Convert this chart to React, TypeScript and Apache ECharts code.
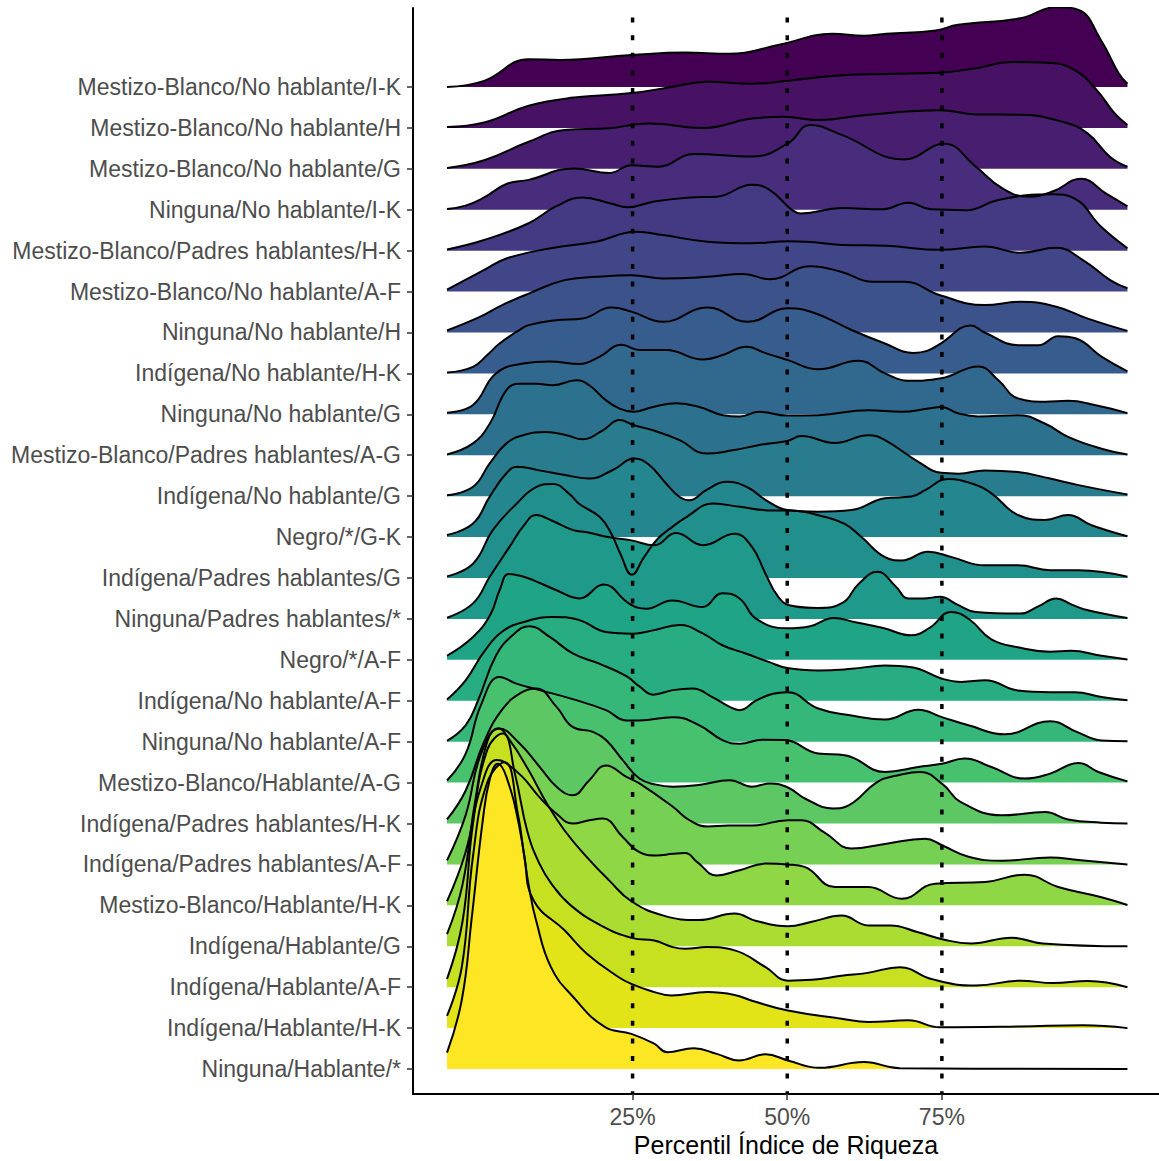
import React, { useEffect, useRef } from "react";
import * as echarts from "echarts";

// Categories, top to bottom
const CATEGORIES: string[] = [
  "Mestizo-Blanco/No hablante/I-K",
  "Mestizo-Blanco/No hablante/H",
  "Mestizo-Blanco/No hablante/G",
  "Ninguna/No hablante/I-K",
  "Mestizo-Blanco/Padres hablantes/H-K",
  "Mestizo-Blanco/No hablante/A-F",
  "Ninguna/No hablante/H",
  "Indígena/No hablante/H-K",
  "Ninguna/No hablante/G",
  "Mestizo-Blanco/Padres hablantes/A-G",
  "Indígena/No hablante/G",
  "Negro/*/G-K",
  "Indígena/Padres hablantes/G",
  "Ninguna/Padres hablantes/*",
  "Negro/*/A-F",
  "Indígena/No hablante/A-F",
  "Ninguna/No hablante/A-F",
  "Mestizo-Blanco/Hablante/A-G",
  "Indígena/Padres hablantes/H-K",
  "Indígena/Padres hablantes/A-F",
  "Mestizo-Blanco/Hablante/H-K",
  "Indígena/Hablante/G",
  "Indígena/Hablante/A-F",
  "Indígena/Hablante/H-K",
  "Ninguna/Hablante/*",
];

// Fill colours (viridis, top to bottom)
const FILLS: string[] = [
  "#440154", "#471164", "#481F70", "#472D7B", "#443A83", "#404688", "#3B528B",
  "#365D8D", "#31688E", "#2C728E", "#287C8E", "#24868E", "#21908C", "#1F9A8A",
  "#20A486", "#27AD81", "#35B779", "#47C16E", "#5DC863", "#75D054", "#8FD744",
  "#AADC32", "#C7E020", "#E3E418", "#FDE725",
];

// Density outlines: [percentile, height in row units]
const R00 = [[-5,0],[1,0.15],[8.2,0.68],[13.3,0.66],[24.8,0.78],[33.5,0.84],[40.7,0.81],[48.7,1.03],[57.3,1.3],[62.4,1.25],[66,1.3],[74,1.38],[77.6,1.52],[87.7,1.68],[93.5,1.95],[97.1,1.88],[100.7,1.15],[103.6,0.33],[105,0.08]];
const R01 = [[-5,0.02],[1,0.13],[8.2,0.54],[15.5,0.74],[24.8,0.85],[31.3,1.0],[37.1,1.13],[44.3,1.08],[50.1,1.15],[57.3,1.27],[66,1.32],[74.7,1.35],[80.5,1.46],[86.3,1.61],[92.1,1.59],[96.4,1.42],[100,0.93],[102.9,0.36],[105,0.07]];
const R02 = [[-5,0.02],[1,0.21],[8.2,0.66],[14,0.95],[21.3,0.99],[24.8,1.07],[27.7,1.11],[36.4,1.0],[44.3,1.23],[49.4,1.27],[55.1,1.19],[62.4,1.31],[74.7,1.43],[80.5,1.33],[87.7,1.32],[94.9,1.13],[98.6,0.86],[102.2,0.29],[105,0.05]];
const R03 = [[-5,0.02],[-2,0.1],[1,0.3],[4.6,0.63],[8.2,0.73],[15.5,1.01],[21.3,0.9],[24.8,1.09],[29.1,1.05],[34.9,1.36],[44.3,1.3],[50.1,1.62],[53.7,2.07],[58.8,1.83],[68.9,1.23],[75.4,1.61],[80.5,1.05],[84.8,0.52],[89,0.32],[93,0.45],[97.5,0.76],[101.5,0.4],[105,0.08]];
const R04 = [[-5,0.03],[1,0.26],[8.2,0.67],[12.6,1.08],[16.9,1.3],[21.3,1.16],[24.2,1.06],[28.5,1.2],[34.3,1.3],[38.6,1.32],[44.3,1.61],[47.2,1.48],[50.8,0.99],[52.2,0.91],[58.8,1.04],[65.3,1.01],[69.6,1.17],[73.2,1.01],[79,0.99],[84.1,1.24],[92.8,1.38],[96.4,1.28],[100.7,0.59],[105,0.06]];
const R05 = [[-5,0.05],[1,0.53],[4.6,0.81],[11.8,1.06],[19.1,1.22],[25.6,1.46],[29.9,1.38],[37.1,1.22],[44.3,1.18],[50.1,1.23],[53,1.22],[58.8,1.14],[66,1.12],[74.7,1.02],[81.9,1.1],[87.7,0.95],[93.5,1.07],[97.8,0.77],[102.2,0.28],[105,0.08]];
const R06 = [[-5,0.05],[0.3,0.38],[3.9,0.67],[8.2,0.95],[14,1.28],[19.1,1.36],[24.8,1.4],[29.9,1.32],[37.1,1.36],[42.9,1.43],[47.2,1.3],[53.7,1.62],[58.8,1.48],[63.8,1.24],[68.9,1.24],[74.7,0.91],[81.9,0.67],[87.7,0.75],[93.5,0.63],[98.6,0.34],[105,0.04]];
const R07 = [[-5,0.02],[-0.8,0.16],[1.5,0.45],[3.5,0.73],[6.7,1.06],[8.2,1.18],[12.6,1.3],[16.9,1.34],[21.6,1.61],[24.8,1.51],[29.9,1.26],[37.1,1.61],[43.6,1.26],[50.1,1.59],[54.5,1.47],[60.4,1.06],[65.8,0.73],[70.4,0.5],[72.6,0.55],[74.8,0.73],[79.7,1.17],[81.9,1.0],[87.4,0.69],[90.6,0.69],[93.8,0.91],[96.6,0.86],[100.8,0.41],[105,0.05]];
const R08 = [[-5,0.04],[-0.8,0.23],[2.9,1.0],[7.3,1.24],[11.6,1.29],[16.4,1.23],[19.7,1.41],[23.2,1.7],[26.1,1.57],[30.4,1.57],[36.4,1.34],[39.6,1.45],[43.4,1.65],[46.6,1.49],[50,1.33],[55,1.1],[61.5,1.31],[65.8,1.0],[69.5,0.82],[74.9,0.88],[80.9,1.17],[84.1,0.84],[87.3,0.39],[91.7,0.31],[95.4,0.33],[99.7,0.23],[105,0.03]];
const R09 = [[-5,0.02],[-0.8,0.29],[1.9,0.77],[4.6,1.59],[6.7,1.75],[9.4,1.75],[12.1,1.71],[15.9,1.83],[18,1.71],[20.7,1.34],[22.9,1.14],[25.1,1.06],[28.3,1.18],[32.1,1.27],[35.8,1.18],[39.6,0.98],[42.3,0.95],[45.5,1.06],[50,0.97],[55,0.98],[63.1,1.1],[68.5,1.06],[72.8,1.14],[74.9,1.18],[77.7,1.02],[80.9,0.95],[87.3,0.98],[91.7,0.77],[95.4,0.45],[100.8,0.16],[105,0.02]];
const R10 = [[-5,0.02],[-0.8,0.23],[1.9,0.8],[4.6,1.29],[7.3,1.49],[11,1.57],[14.3,1.49],[16.9,1.39],[20.2,1.61],[22.9,1.86],[25.1,1.74],[28.3,1.61],[32.6,1.37],[36.9,1.04],[41.2,1.12],[45.5,1.25],[50,1.35],[52.3,1.47],[57.7,1.3],[63.1,1.49],[65.8,1.37],[71.2,0.84],[74.9,0.57],[77.7,0.55],[81.9,0.63],[87.3,0.59],[92.5,0.43],[97.1,0.27],[105,0.04]];
const R11 = [[-5,0.05],[-0.8,0.33],[1.9,0.99],[4.6,1.56],[6.4,1.72],[9.9,1.63],[14.3,1.51],[18,1.43],[21.8,1.64],[25.3,1.92],[27.7,1.76],[30.4,1.31],[32.6,0.98],[34.2,0.9],[36.9,1.15],[40.2,1.35],[43.4,1.23],[46.6,0.9],[50,0.66],[55,0.62],[60.4,0.66],[65.8,0.95],[70.1,0.99],[72.3,1.15],[76,1.42],[79.8,1.31],[83,1.07],[87.3,0.54],[91.7,0.42],[95.4,0.54],[99.2,0.29],[105,0.02]];
const R12 = [[-5,0.04],[-0.8,0.35],[2.4,1.17],[6.2,1.81],[9.4,2.22],[12.1,2.3],[14.8,2.05],[16.4,1.81],[19.7,1.49],[21.5,1.1],[23,0.6],[24.9,0.08],[26.8,0.5],[29,0.95],[31,1.2],[33.7,1.49],[38,1.82],[42.3,1.74],[47.7,1.65],[50.4,1.65],[56.1,1.49],[59.3,1.32],[62,1.0],[65.8,0.51],[68.5,0.43],[72.8,0.64],[76.6,0.51],[81.9,0.31],[87.3,0.31],[92.5,0.19],[97.1,0.19],[105,0.03]];
const R13 = [[-5,0.03],[-0.8,0.38],[1.9,1.03],[5.1,1.76],[7.5,2.3],[9.4,2.54],[12,2.4],[15.4,2.17],[17.6,2.12],[21,2.0],[24.8,1.92],[28.5,1.8],[32,2.1],[36.4,1.8],[41.5,2.08],[44.3,1.76],[46.5,1.1],[48.5,0.55],[50.5,0.33],[55,0.27],[59,0.4],[61.5,0.85],[64.6,1.15],[67.5,0.8],[69.6,0.5],[72,0.5],[74.7,0.54],[77.5,0.35],[80.5,0.17],[87.7,0.13],[90.5,0.3],[93.5,0.5],[96,0.35],[98.6,0.21],[105,0.02]];
const R14 = [[-5,0.1],[-0.8,0.56],[2,1.1],[3.5,1.7],[5,2.1],[7,2.05],[8.9,1.95],[12.7,1.7],[16.4,1.5],[20.3,1.84],[24.5,1.37],[27.2,1.25],[31.4,1.45],[36.3,1.29],[39.5,1.63],[42.3,1.5],[45,1.0],[50,0.77],[53.7,0.82],[57.5,1.02],[61,0.92],[65.5,0.78],[70,0.6],[73,0.78],[76.5,1.17],[79.5,0.98],[83,0.5],[87.5,0.3],[92.5,0.2],[95.8,0.22],[100.8,0.1],[105,0.01]];
const R15 = [[-5,0.03],[-2,0.5],[1,1.2],[4,1.7],[8,1.95],[12,2.05],[16.4,1.97],[20.7,1.68],[25,1.64],[28.3,1.72],[32.6,1.85],[36.4,1.64],[39.6,1.35],[43.4,1.15],[47,0.95],[50,0.8],[55,0.74],[60.4,0.78],[65.8,0.86],[70.1,0.82],[75,0.54],[78.2,0.46],[82,0.5],[87.3,0.25],[92.5,0.21],[96.5,0.21],[100.8,0.09],[105,0.01]];
const R16 = [[-5,0.02],[-2,0.4],[0,1.0],[2.9,2.1],[5.6,2.6],[8.3,2.82],[11.6,2.56],[15.4,2.15],[19.7,1.9],[24,1.6],[26.1,1.35],[28.3,1.15],[31.5,1.26],[34.7,1.3],[37.9,1.09],[40.7,0.85],[42.3,0.77],[45,1.01],[47.7,1.17],[50,1.21],[55,0.81],[60.4,0.64],[65.8,0.54],[71.2,0.78],[75,0.6],[79.3,0.4],[85.2,0.18],[92.5,0.5],[96.8,0.24],[100.8,0.03],[105,0.01]];
const R17 = [[-5,0.05],[-2,0.7],[0.5,1.9],[3.5,2.58],[6.2,2.42],[10,2.26],[15.3,2.04],[20.7,1.77],[24,1.52],[26.1,1.52],[31.5,1.6],[35.8,1.4],[39.6,1.03],[42.3,0.95],[46,1.05],[49.6,1.04],[55,0.71],[59.3,0.67],[65.8,0.26],[71.2,0.38],[75,0.46],[78.7,0.59],[83,0.38],[88.4,0.1],[92.5,0.22],[97.1,0.48],[100.3,0.26],[105,0.03]];
const R18 = [[-5,0.1],[-2,0.8],[1,2.0],[4,2.8],[7,3.2],[9.4,3.3],[12.7,2.85],[15.3,2.36],[18.6,2.24],[20.7,2.04],[23.4,1.55],[26.1,1.1],[28.8,0.95],[31.5,0.9],[35.7,0.94],[40.7,1.06],[44.3,0.9],[47.2,0.98],[50.1,0.88],[53,0.6],[57.4,0.37],[60,0.45],[64.6,1.02],[68,1.18],[71.5,1.26],[75.2,0.95],[78,0.53],[84.7,0.2],[91.7,0.28],[95.4,0.1],[100.8,0.02],[105,0]];
const R19 = [[-5,0.1],[-2,1.2],[0.5,2.7],[3.5,3.32],[6.7,2.96],[10,2.38],[12.7,1.9],[15.3,1.69],[18,2.06],[20.7,2.42],[24,2.14],[26.1,1.98],[31.5,1.41],[34.2,1.08],[37.1,0.93],[40.5,0.95],[44.3,0.95],[50.1,1.08],[52.3,1.08],[56.1,0.77],[60.4,0.39],[65.8,0.5],[72.3,0.63],[75,0.47],[79.3,0.19],[84.7,0.09],[92.5,0.17],[97.1,0.11],[105,0]];
const R20 = [[-5,0.1],[-2,1.3],[0.5,2.9],[3,3.55],[4.3,3.5],[7.2,3.14],[9.9,2.65],[12.7,2.24],[15.3,2.0],[18,2.08],[20.2,2.12],[23.4,1.67],[26.1,1.3],[28.8,1.22],[31.5,1.26],[33.5,1.28],[35.5,1.05],[38.6,0.73],[42.3,0.86],[46.5,1.02],[50,1.0],[52.8,0.94],[57.7,0.45],[63.1,0.45],[68.5,0.16],[73.9,0.53],[82,0.57],[88.4,0.75],[93.8,0.45],[100.8,0.2],[105,0.01]];
const R21 = [[-5,0.3],[-2.5,1.5],[-0.5,3.5],[1.5,5.0],[3.2,5.33],[5.3,5.0],[8.2,4.3],[11.1,3.5],[14,2.83],[17.6,2.18],[21.2,1.61],[24.8,1.1],[30,0.75],[35.7,0.64],[41.5,0.8],[45,0.62],[50.1,0.49],[54,0.6],[58.8,0.75],[63.1,0.51],[66.7,0.51],[71,0.35],[75.4,0.16],[79.7,0.07],[86.3,0.21],[91.3,0.07],[105,0]];
const R22 = [[-5,0.2],[-2.5,1.6],[-0.8,4.0],[1.5,5.8],[4,6.2],[6,5.2],[8,3.8],[10,3.0],[12,2.5],[15,2.0],[20,1.5],[25,1.2],[28.5,1.14],[31.5,0.98],[33.5,0.94],[37,0.98],[41.5,0.9],[46.5,0.49],[50.1,0.16],[54,0.18],[58.8,0.28],[63,0.35],[68.2,0.49],[73.3,0.2],[80.5,0.04],[87.7,0.16],[93,0.1],[98.6,0.15],[105,0]];
const R23 = [[-5,0.3],[-2.6,1.5],[-0.8,4.2],[1.5,6.0],[4.3,6.5],[6.5,5.2],[7.5,4.2],[9,3.12],[14,2.39],[17.6,1.82],[22.7,1.25],[24.8,1.08],[27.7,0.92],[31.3,0.8],[37.1,0.88],[41.5,0.81],[44.3,0.67],[50.1,0.43],[58.8,0.23],[63.1,0.15],[69.6,0.19],[74.7,0.02],[87.7,0.04],[97.8,0.07],[105,0]];
const R24 = [[-5,0.4],[-2.6,1.7],[-1,3.7],[0.8,6.1],[1.9,7.07],[3.2,7.46],[4.6,7.14],[6.7,5.91],[8.3,4.4],[9.4,3.63],[11.8,2.49],[15.4,1.76],[20.5,1.03],[24.8,0.86],[28.5,0.62],[30.6,0.41],[34.9,0.51],[38.6,0.37],[42.2,0.21],[46.5,0.36],[50.1,0.21],[55.2,0.03],[62.4,0.17],[68.2,0.02],[80,0.01],[105,0]];

const DENSITIES = [R00,R01,R02,R03,R04,R05,R06,R07,R08,R09,R10,R11,R12,R13,R14,R15,R16,R17,R18,R19,R20,R21,R22,R23,R24];

const X_TICKS = [25, 50, 75];
const X_TICK_LABELS = ["25%", "50%", "75%"];
const REF_LINES = [25, 50, 75];

const Y_MIN = -0.61;
const Y_MAX = 25.93;

export default function App() {
  const ref = useRef<HTMLDivElement>(null);
  useEffect(() => {
    if (!ref.current) return;
    const chart = echarts.init(ref.current, undefined, { renderer: "svg" });
    const n = CATEGORIES.length;
    const ridgeSeries = DENSITIES.map((pts, i) => {
      const base = n - 1 - i;
      return {
        type: "line",
        name: CATEGORIES[i],
        data: pts.map((p) => [p[0], base + p[1]]),
        smooth: 0.45,
        symbol: "none",
        lineStyle: { color: "#000", width: 2 },
        areaStyle: { color: FILLS[i], opacity: 1, origin: base },
        silent: true,
      };
    });
    const vSeries = REF_LINES.map((v) => ({
      type: "line",
      data: [[v, Y_MAX], [v, Y_MIN]],
      symbol: "none",
      silent: true,
      lineStyle: { color: "#000", width: 3.5, type: [5, 12.6], dashOffset: 7.6, cap: "butt" },
      z: 5,
    }));
    chart.setOption({
      animation: false,
      grid: { left: 413, right: 0, top: 8, bottom: 67, containLabel: false, outerBoundsMode: "none" },
      xAxis: {
        type: "value",
        min: -10.5,
        max: 110.1,
        splitLine: { show: false },
        axisLine: { show: true, onZero: false, lineStyle: { color: "#000", width: 2 } },
        axisTick: { show: true, customValues: X_TICKS, length: 6, lineStyle: { color: "#333", width: 1.5 } },
        axisLabel: {
          customValues: X_TICKS,
          formatter: (v: number) => X_TICK_LABELS[X_TICKS.indexOf(Math.round(v))] ?? "",
          color: "#4D4D4D",
          fontSize: 23,
          fontFamily: "Liberation Sans",
          margin: 11,
        },
        name: "Percentil Índice de Riqueza",
        nameLocation: "middle",
        nameGap: 36,
        nameTextStyle: { color: "#000", fontSize: 25, fontFamily: "Liberation Sans" },
      },
      yAxis: {
        type: "value",
        min: Y_MIN,
        max: Y_MAX,
        splitLine: { show: false },
        axisLine: { show: true, onZero: false, lineStyle: { color: "#000", width: 2 } },
        axisTick: { show: true, customValues: CATEGORIES.map((_, i) => i), length: 6, lineStyle: { color: "#333", width: 1.5 } },
        axisLabel: {
          customValues: CATEGORIES.map((_, i) => i),
          formatter: (v: number) => CATEGORIES[n - 1 - Math.round(v)] ?? "",
          color: "#4D4D4D",
          fontSize: 23,
          fontFamily: "Liberation Sans",
          margin: 12,
        },
      },
      series: [...ridgeSeries, ...vSeries],
    });
    return () => chart.dispose();
  }, []);
  return (
    <div
      ref={ref}
      style={{ position: "absolute", left: 0, top: 0, width: 1159, height: 1161, background: "#fff" }}
    />
  );
}
